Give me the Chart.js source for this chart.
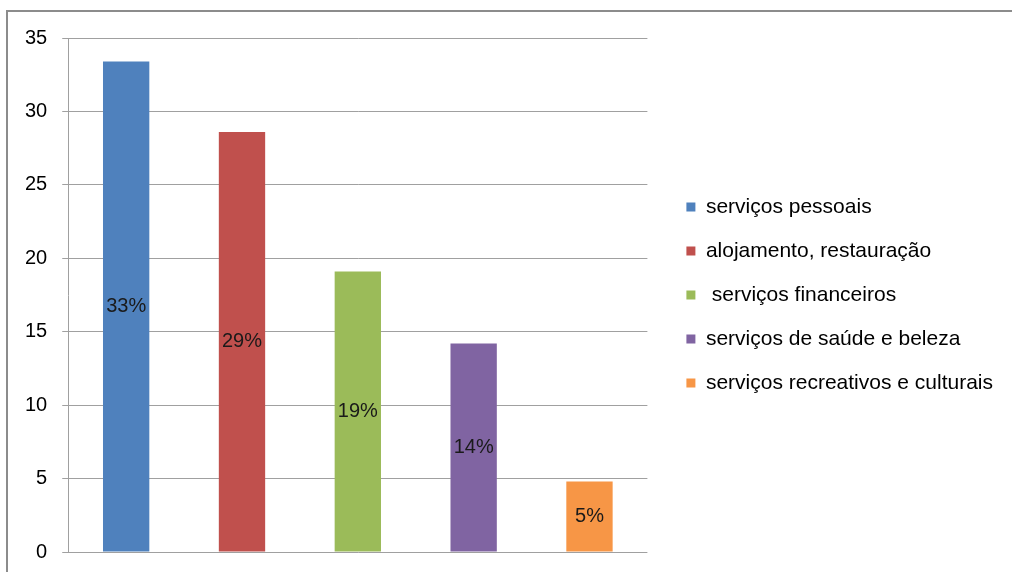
<!DOCTYPE html>
<html lang="pt">
<head>
    <meta charset="UTF-8">
    <title>Serviços</title>
    <style>
        body {
            margin: 0;
            padding: 0;
            background-color: #ffffff;
            font-family: "Liberation Sans", Arial, sans-serif;
        }

        .wrap {
            position: relative;
            width: 1012px;
            height: 572px;
            overflow: hidden;
        }

        .frame {
            position: absolute;
            left: 6px;
            top: 10px;
            width: 1100px;
            height: 700px;
            border: 2px solid #8c8c8c;
        }

        .chart-box {
            position: absolute;
            left: 0;
            top: 0;
            width: 1012px;
            height: 572px;
        }
    </style>
</head>
<body>
    <div class="wrap">
        <div class="frame"></div>
        <div class="chart-box">
            <canvas id="chart"></canvas>
        </div>
    </div>

    <script src="https://cdn.jsdelivr.net/npm/chart.js"></script>
    <script>
        const categories = [
            'serviços pessoais',
            'alojamento, restauração',
            ' serviços financeiros',
            'serviços de saúde e beleza',
            'serviços recreativos e culturais'
        ];
        const values = [33.4, 28.6, 19.1, 14.2, 4.8];
        const percentLabels = ['33%', '29%', '19%', '14%', '5%'];
        const colors = ['#4f81bd', '#c0504d', '#9bbb59', '#8064a2', '#f79646'];

        // rótulos de percentagem no meio de cada barra
        const barLabels = {
            id: 'barLabels',
            afterDatasetsDraw(chart) {
                const ctx = chart.ctx;
                const meta = chart.getDatasetMeta(0);
                ctx.save();
                ctx.font = '20px "Liberation Sans", Arial, sans-serif';
                ctx.fillStyle = '#1a1a1a';
                ctx.textAlign = 'center';
                ctx.textBaseline = 'middle';
                meta.data.forEach((bar, i) => {
                    const p = bar.getProps(['x', 'y', 'base'], true);
                    ctx.fillText(percentLabels[i], p.x, (p.y + p.base) / 2);
                });
                ctx.restore();
            }
        };

        // sem margem extra das escalas: só a do layout
        function noScalePadding(scale) {
            scale.paddingTop = 0;
            scale.paddingBottom = 0;
        }

        new Chart(document.getElementById('chart'), {
            type: 'bar',
            data: {
                labels: categories,
                datasets: [{
                    data: values,
                    backgroundColor: colors,
                    borderWidth: 0,
                    barPercentage: 0.4,
                    categoryPercentage: 1
                }]
            },
            options: {
                responsive: true,
                maintainAspectRatio: false,
                animation: false,
                layout: {
                    padding: { left: 10, top: 38, bottom: 20, right: 9 }
                },
                scales: {
                    x: {
                        display: false
                    },
                    y: {
                        min: 0,
                        max: 35,
                        afterFit: noScalePadding,
                        ticks: {
                            stepSize: 5,
                            padding: 15,
                            color: '#000000',
                            font: { size: 20, family: '"Liberation Sans", Arial, sans-serif' }
                        },
                        grid: {
                            color: '#a0a0a0',
                            tickLength: 6
                        },
                        border: {
                            color: '#a0a0a0'
                        }
                    },
                    spacer: {
                        position: 'right',
                        display: true,
                        ticks: { display: false },
                        grid: { display: false },
                        border: { display: false },
                        afterFit(scale) {
                            scale.width = 16;
                            noScalePadding(scale);
                        }
                    }
                },
                plugins: {
                    tooltip: { enabled: false },
                    legend: {
                        position: 'right',
                        maxWidth: 420,
                        labels: {
                            boxWidth: 9,
                            boxHeight: 9,
                            padding: 23,
                            color: '#000000',
                            font: { size: 21, family: '"Liberation Sans", Arial, sans-serif' },
                            generateLabels() {
                                return categories.map((c, i) => ({
                                    text: c,
                                    fillStyle: colors[i],
                                    strokeStyle: colors[i],
                                    lineWidth: 0,
                                    hidden: false,
                                    index: i
                                }));
                            }
                        }
                    }
                }
            },
            plugins: [barLabels]
        });
    </script>
</body>
</html>
